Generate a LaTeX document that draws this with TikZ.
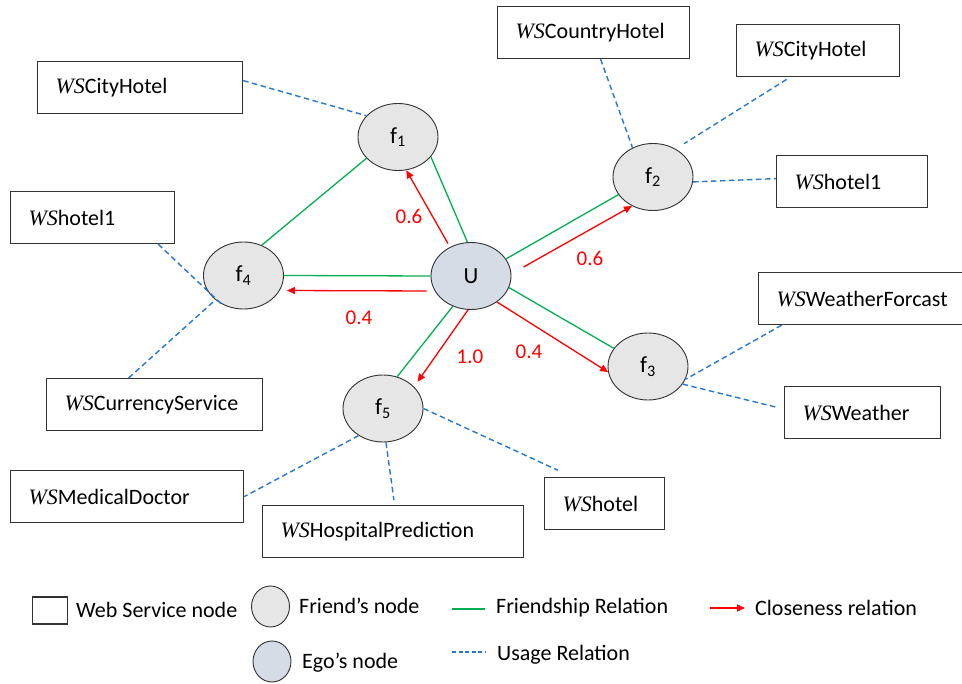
\documentclass[tikz,border=0pt]{standalone}
\usepackage{fontspec}
\setmainfont{Carlito}
\newfontfamily\wsfont{Liberation Serif}
\usetikzlibrary{arrows.meta,shapes.geometric}
\definecolor{friendColor}{RGB}{0,176,80}
\definecolor{closeColor}{RGB}{255,0,0}
\definecolor{usageColor}{RGB}{35,120,210}
\definecolor{friendFill}{RGB}{230,230,230}
\definecolor{egoFill}{RGB}{214,220,229}
\definecolor{lineColor}{RGB}{50,50,50}
\newcommand{\WS}{{\wsfont\itshape WS}}
\begin{document}
\begin{tikzpicture}[x=1pt,y=-1pt,
  wsbox/.style={draw=lineColor,line width=1.2pt,fill=white,anchor=north west,
    minimum height=52pt,inner xsep=18pt,inner ysep=0pt,align=left,
    font=\fontsize{22}{26}\selectfont},
  friend/.style={ellipse,draw=lineColor,line width=0.9pt,fill=friendFill,
    minimum width=80pt,minimum height=67pt,inner sep=0pt,
    font=\fontsize{23}{27}\selectfont},
  ego/.style={friend,fill=egoFill},
  friendship/.style={draw=friendColor,line width=1.3pt},
  closeness/.style={draw=closeColor,line width=1.3pt,-{Triangle[length=8pt,width=7pt]}},
  usage/.style={draw=usageColor,line width=1.4pt,dash pattern=on 5.5pt off 3.5pt},
  weight/.style={text=closeColor,inner sep=0pt,font=\fontsize{21}{25}\selectfont},
  legend/.style={anchor=west,inner sep=0pt,font=\fontsize{22}{26}\selectfont}]
\path[use as bounding box,fill=white] (0,0) rectangle (962,684);

% ego and friends
\node[ego] (U) at (471,276) {U};
\node[friend] (f1) at (398,137) {f\textsubscript{1}};
\node[friend] (f2) at (653,177) {f\textsubscript{2}};
\node[friend] (f3) at (648,366.5) {f\textsubscript{3}};
\node[friend] (f4) at (243.5,275.5) {f\textsubscript{4}};
\node[friend] (f5) at (383,408.5) {f\textsubscript{5}};

% web services
\node[wsbox,text width=169pt] (cityL) at (37,61) {\mbox{\WS CityHotel}};
\node[wsbox,text width=128pt] (hotelL) at (10,191) {\mbox{\WS hotel1}};
\node[wsbox,text width=180pt] (currency) at (46,378) {\mbox{\WS CurrencyService}};
\node[wsbox,text width=197pt] (medical) at (10,470) {\mbox{\WS MedicalDoctor}};
\node[wsbox,text width=225pt] (hospital) at (262,505) {\mbox{\WS HospitalPrediction}};
\node[wsbox,text width=84pt] (hotelB) at (544,477) {\mbox{\WS hotel}};
\node[wsbox,text width=120pt] (weather) at (784,386) {\mbox{\WS Weather}};
\node[wsbox,text width=174pt] (forcast) at (758,272) {\mbox{\WS WeatherForcast}};
\node[wsbox,text width=156pt] (country) at (497,6) {\mbox{\WS CountryHotel}};
\node[wsbox,text width=127pt] (cityR) at (736,24) {\mbox{\WS CityHotel}};
\node[wsbox,text width=115pt] (hotelR) at (776,155) {\mbox{\WS hotel1}};

% friendship
\draw[friendship] (f1.214) -- (f4.59);
\draw[friendship] (f1.-31) -- (U.96);
\draw[friendship] (U.west) -- (f4.east);
\draw[friendship] (U.26) -- (f2.207);
\draw[friendship] (U.-17) -- (f3.152);
\draw[friendship] (U.239) -- (f5.66);

% closeness
\draw[closeness,shorten <=4pt] (U.126) -- (f1.-76);
\draw[closeness,shorten <=4pt,shorten >=3pt] ([yshift=-15pt]U.west) -- ([yshift=-15pt]f4.east);
\draw[closeness,shorten <=14pt] (U.3) -- (f2.234);
\draw[closeness] (U.-45) -- (f3.188);
\draw[closeness,shorten >=6pt] (U.265) -- (f5.35);
\node[weight] (w1) at (409,216) {0.6};
\node[weight] (w4) at (359,318) {0.4};
\node[weight] (w2) at (590,258) {0.6};
\node[weight] (w5) at (470,357) {1.0};
\node[weight] (w3) at (529,352) {0.4};

% usage
\draw[usage] ([yshift=7pt]cityL.east) -- (f1.146);
\draw[usage] ([xshift=-17pt]hotelL.south east) -- (f4.232);
\draw[usage] ([xshift=-26pt]currency.north) -- (f4.221);
\draw[usage] ([xshift=7pt]country.south) -- (f2.125);
\draw[usage,shorten <=4pt,shorten >=10pt] ([xshift=-28pt]cityR.south) -- (f2.51);
\draw[usage] (f2.-7) -- ([yshift=3pt]hotelR.west);
\draw[usage] ([xshift=-82pt]forcast.south) -- (f3.-19);
\draw[usage,shorten >=6pt] (f3.-27) -- ([yshift=3.5pt]weather.west);
\draw[usage] (f5.228) -- (medical.east);
\draw[usage,shorten >=5pt] (f5.-85) -- ([xshift=1.5pt]hospital.north);
\draw[usage,shorten >=16pt] (f5.east) -- ([xshift=-32pt]hotelB.north);

% legend
\node[draw=lineColor,line width=1.2pt,minimum width=35pt,minimum height=27pt,inner sep=0pt] (lgWs) at (50,610.5) {};
\node[legend] (lgWsText) at (76,610) {Web Service node};
\node[friend,minimum width=38pt,minimum height=41pt] (lgFriend) at (270.5,606.5) {};
\node[legend] (lgFriendText) at (299,606) {Friend’s node};
\node[ego,minimum width=38pt,minimum height=41pt] (lgEgo) at (272,661.5) {};
\node[legend] (lgEgoText) at (302,663) {Ego’s node};
\coordinate (lgFa) at (452,609);
\coordinate (lgFb) at (485,609);
\draw[friendship] (lgFa) -- (lgFb);
\node[legend] (lgFText) at (496,608) {Friendship Relation};
\coordinate (lgUa) at (452,652);
\coordinate (lgUb) at (485,652);
\draw[usage,line width=1.1pt,dash pattern=on 4pt off 2.5pt] (lgUa) -- (lgUb);
\node[legend] (lgUText) at (497,655) {Usage Relation};
\coordinate (lgCa) at (710,608);
\coordinate (lgCb) at (745,608);
\draw[closeness] (lgCa) -- (lgCb);
\node[legend] (lgCText) at (755,608) {Closeness relation};
\end{tikzpicture}
\end{document}
